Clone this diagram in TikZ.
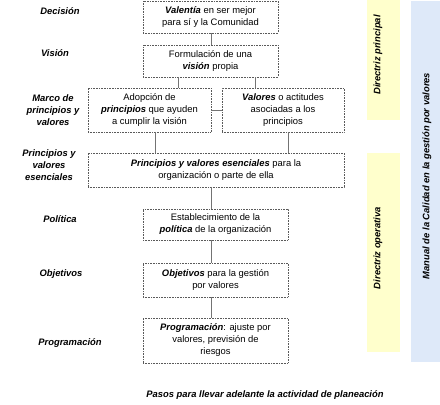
\documentclass[tikz,border=0pt]{standalone}
\usepackage{fontspec}
\setmainfont{Liberation Sans}
\usetikzlibrary{positioning, calc}
\definecolor{baryellow}{RGB}{255, 255, 204}
\definecolor{barblue}{RGB}{222, 233, 249}
\definecolor{edgegray}{RGB}{90, 90, 90}
\newcommand{\bfit}[1]{\textbf{\textit{#1}}}
\tikzstyle{stepbox} = [draw=edgegray, densely dotted, line width=0.6pt, align=center, inner sep=1pt, font=\fontsize{9.4}{12}\selectfont]
\tikzstyle{steplabel} = [align=center, font=\fontsize{9.4}{12}\selectfont\bfseries\itshape]
\tikzstyle{bartext} = [rotate=90, font=\fontsize{9.4}{11}\selectfont\bfseries\itshape]
\tikzstyle{link} = [draw=black!55, line width=0.7pt]

\begin{document}
\begin{tikzpicture}[x=1pt, y=-1pt]
    \useasboundingbox (0,0) rectangle (440,405);

    % Side bars
    \node[fill=baryellow, minimum width=33pt, minimum height=120pt, inner sep=0pt] (barmain) at (383.5, 60) {};
    \node[fill=baryellow, minimum width=33pt, minimum height=199pt, inner sep=0pt] (barop) at (383.5, 252.5) {};
    \node[fill=barblue, minimum width=30pt, minimum height=361pt, inner sep=0pt] (barman) at (425.5, 181.5) {};
    \node[bartext] (tmain) at (378, 55) {Directriz principal};
    \node[bartext] (top) at (378, 248) {Directriz operativa};
    \node[bartext] (tman) at (427, 176) {Manual de la Calidad en la gestión por valores};

    % Steps
    \node[stepbox, minimum width=135pt, minimum height=32pt] (dec) at (210.5, 16.8) {\bfit{Valentía} en ser mejor\\para sí y la Comunidad};
    \node[stepbox, minimum width=135pt, minimum height=32pt] (vis) at (210.5, 61) {Formulación de una\\\bfit{visión} propia};
    \node[stepbox, minimum width=123pt, minimum height=44pt] (adop) at (149.5, 110) {Adopción de\\\bfit{principios} que ayuden\\a cumplir la visión};
    \node[stepbox, minimum width=122pt, minimum height=44pt] (valo) at (283, 110) {\bfit{Valores} o actitudes\\asociadas a los\\principios};
    \node[stepbox, minimum width=256pt, minimum height=34pt] (prin) at (216, 170) {\bfit{Principios y valores esenciales} para la\\organización o parte de ella};
    \node[stepbox, minimum width=145pt, minimum height=31pt] (pol) at (215.5, 224.5) {Establecimiento de la\\\bfit{política} de la organización};
    \node[stepbox, minimum width=145pt, minimum height=34pt] (obj) at (215.5, 280) {\bfit{Objetivos} para la gestión\\por valores};
    \node[stepbox, minimum width=145pt, minimum height=45pt] (prog) at (215.5, 340.5) {\bfit{Programación}: ajuste por\\valores, previsión de\\riesgos};

    % Connectors
    \coordinate (axis) at (211, 0);
    \coordinate (visl) at (178, 0);
    \coordinate (visr) at (255, 0);
    \coordinate (adopx) at (155, 0);
    \coordinate (valox) at (288, 0);
    \draw[link] (dec.south -| axis) -- (vis.north -| axis);
    \draw[link] (vis.south -| visl) -- (adop.north -| visl);
    \draw[link] (vis.south -| visr) -- (valo.north -| visr);
    \draw[link] (adop.east) -- (valo.west);
    \draw[link] (adop.south -| adopx) -- (prin.north -| adopx);
    \draw[link] (valo.south -| valox) -- (prin.north -| valox);
    \draw[link] (prin.south -| axis) -- (pol.north -| axis);
    \draw[link] (pol.south -| axis) -- (obj.north -| axis);
    \draw[link] (obj.south -| axis) -- (prog.north -| axis);

    % Step labels
    \node[steplabel] (ldec) at (60, 11) {Decisión};
    \node[steplabel] (lvis) at (55, 53) {Visión};
    \node[steplabel] (lmar) at (53, 110) {Marco de\\principios y\\valores};
    \node[steplabel] (lpri) at (49, 165) {Principios y\\valores\\esenciales};
    \node[steplabel] (lpol) at (60, 219) {Política};
    \node[steplabel] (lobj) at (61, 274) {Objetivos};
    \node[steplabel] (lpro) at (70, 343) {Programación};

    % Caption
    \node[steplabel] (caption) at (265, 395) {Pasos para llevar adelante la actividad de planeación};
\end{tikzpicture}
\end{document}
